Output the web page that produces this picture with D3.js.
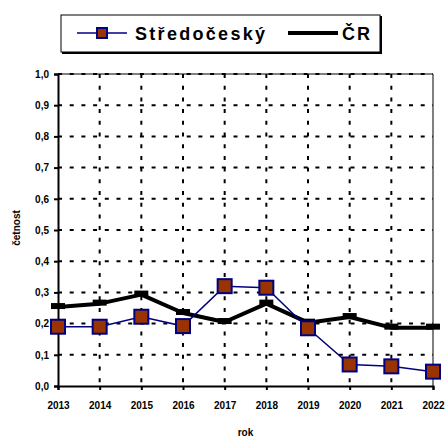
<!DOCTYPE html>
<html><head><meta charset="utf-8">
<script src="https://cdn.jsdelivr.net/npm/d3@7"></script>
<style>body{margin:0;background:#fff}svg{display:block}</style>
</head><body>
<svg id="c" width="448" height="438"></svg>
<script>
const years = [2013,2014,2015,2016,2017,2018,2019,2020,2021,2022];
const stredocesky = [0.19,0.19,0.222,0.192,0.32,0.315,0.185,0.069,0.063,0.046];
const cr = [0.253,0.264,0.293,0.234,0.205,0.264,0.203,0.221,0.187,0.187];
const yTicks = [0,0.1,0.2,0.3,0.4,0.5,0.6,0.7,0.8,0.9,1.0];
const seriesNames = ["Středočeský","ČR"];

const svg = d3.select("#c");
const L=58, R=433, T=74, B=386;
const x = d3.scalePoint().domain(years).range([L,R]);
const y = d3.scaleLinear().domain([0,1]).range([B,T]);
const font = "Liberation Sans, Arial, sans-serif";

// plot border (gray top/right)
svg.append("line").attr("x1",L).attr("x2",R).attr("y1",T).attr("y2",T).attr("stroke","#808080").attr("stroke-width",2);
svg.append("line").attr("x1",R).attr("x2",R).attr("y1",T).attr("y2",B).attr("stroke","#808080").attr("stroke-width",2);

// horizontal grid
svg.append("g").selectAll("line").data(yTicks.filter(d=>d>0)).join("line")
  .attr("x1",L).attr("x2",R).attr("y1",d=>y(d)).attr("y2",d=>y(d))
  .attr("stroke","#000").attr("stroke-width",2).attr("stroke-dasharray","4,7.7");
// vertical grid
svg.append("g").selectAll("line").data(years.slice(1,-1)).join("line")
  .attr("x1",d=>x(d)).attr("x2",d=>x(d)).attr("y1",T).attr("y2",B)
  .attr("stroke","#000").attr("stroke-width",2).attr("stroke-dasharray","4,7.7");

// axes
const yAxis = svg.append("g").attr("transform",`translate(${L},0)`)
  .call(d3.axisLeft(y).tickValues(yTicks).tickSize(4).tickPadding(5).tickFormat(d=>d3.format(".1f")(d).replace(".",",")));
const xAxis = svg.append("g").attr("transform",`translate(0,${B})`)
  .call(d3.axisBottom(x).tickSize(4).tickPadding(12));
[yAxis,xAxis].forEach(a=>{
  a.select(".domain").attr("stroke","#000").attr("stroke-width",2);
  a.selectAll(".tick line").attr("stroke","#000").attr("stroke-width",2);
  a.selectAll("text").attr("font-family",font).attr("font-weight","bold").attr("font-size",10).attr("fill","#000");
});

// axis titles
svg.append("text").attr("x",(L+R)/2).attr("y",436).attr("text-anchor","middle")
  .attr("font-family",font).attr("font-weight","bold").attr("font-size",10).text("rok");
svg.append("text").attr("transform","translate(19.5,228) rotate(-90)").attr("text-anchor","middle")
  .attr("font-family",font).attr("font-weight","bold").attr("font-size",10).text("četnost");

// ČR line
const line = d3.line().x((d,i)=>x(years[i])).y(d=>y(d));
svg.append("path").datum(cr).attr("d",line).attr("fill","none").attr("stroke","#000").attr("stroke-width",4).attr("stroke-linejoin","round");
svg.append("g").selectAll("rect").data(cr).join("rect")
  .attr("x",(d,i)=>x(years[i])-7).attr("y",d=>y(d)-4).attr("width",14).attr("height",6).attr("fill","#000");

// Středočeský
svg.append("path").datum(stredocesky).attr("d",line).attr("fill","none").attr("stroke","#000080").attr("stroke-width",1.5);
svg.append("g").selectAll("rect").data(stredocesky).join("rect")
  .attr("x",(d,i)=>x(years[i])-7).attr("y",d=>y(d)-7).attr("width",14).attr("height",14)
  .attr("fill","#993300").attr("stroke","#000080").attr("stroke-width",2);

// legend
const lg = svg.append("g");
lg.append("rect").attr("x",62).attr("y",16).attr("width",320).attr("height",38).attr("fill","#000");
lg.append("rect").attr("x",61).attr("y",15).attr("width",319).attr("height",37).attr("fill","#fff").attr("stroke","#000").attr("stroke-width",1);
lg.append("line").attr("x1",77).attr("x2",127).attr("y1",33).attr("y2",33).attr("stroke","#000080").attr("stroke-width",1.5);
lg.append("rect").attr("x",97).attr("y",28).attr("width",10).attr("height",10).attr("fill","#993300").attr("stroke","#000080").attr("stroke-width",2);
lg.append("text").attr("x",135).attr("y",40).attr("font-family",font).attr("font-weight","bold").attr("font-size",18).attr("letter-spacing",2.3).text(seriesNames[0]);
lg.append("line").attr("x1",288).attr("x2",338).attr("y1",33).attr("y2",33).attr("stroke","#000").attr("stroke-width",4);
lg.append("text").attr("x",342).attr("y",40).attr("font-family",font).attr("font-weight","bold").attr("font-size",18).attr("letter-spacing",2).text(seriesNames[1]);
</script>
</body></html>
